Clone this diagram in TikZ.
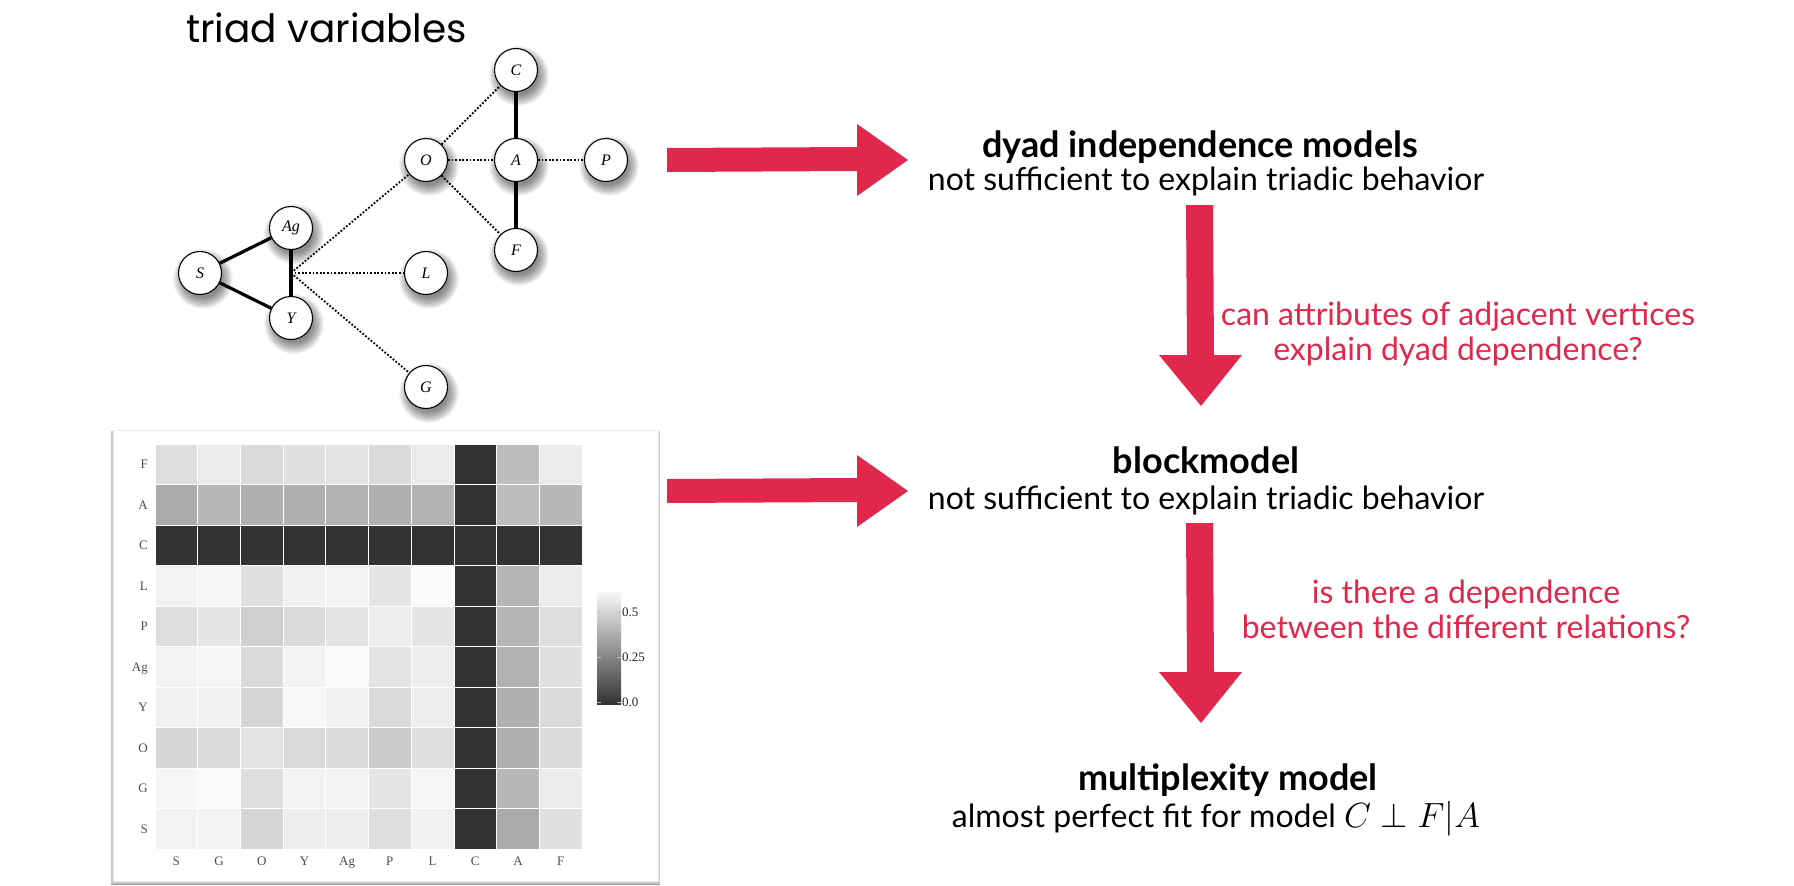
\RequirePackage{fix-cm}
\documentclass[tikz,border=0pt]{standalone}
\usepackage{fontspec}
\setmainfont{Lato}
\newfontfamily\serifnum{Liberation Serif}
\newfontfamily\handfont{Poppins}
\usetikzlibrary{calc}
\definecolor{redarrow}{HTML}{E1274C}
\begin{document}
\begin{tikzpicture}[x=1pt,y=-1pt,
  gnode/.style={circle, draw=black, line width=1.1pt, fill=white, minimum size=43pt, inner sep=0pt,
    font=\serifnum\itshape\fontsize{16}{16}\selectfont},
  strong/.style={line width=3.2pt},
  weak/.style={line width=1.8pt, dash pattern=on 1.8pt off 1.8pt},
  headtxt/.style={anchor=base, inner sep=0pt, font=\bfseries\fontsize{36}{40}\selectfont},
  subtxt/.style={anchor=base, inner sep=0pt, font=\fontsize{32}{36}\selectfont},
  qtxt/.style={subtxt, text=redarrow},
  hmlab/.style={inner sep=0pt, text=black!70, font=\serifnum\fontsize{13}{13}\selectfont},
  blockarrow/.style={fill=redarrow}
]
\useasboundingbox (0,0) rectangle (1794,886);
\fill[white] (0,0) rectangle (1794,886);

% ---------- title
\node[anchor=base west, inner sep=0pt, font=\handfont\fontsize{39}{39}\selectfont] (title) at (186,42) {triad variables};

% ---------- graph
\foreach \n/\x/\y in {C/516/70, O/426/160, A/516/160, P/606/160, F/516/250, Ag/291/228, S/200/273, Y/291/318, L/426/273, G/426/387}
  { \coordinate (p\n) at (\x,\y); }
\foreach \n in {C,O,A,P,F,Ag,S,Y,L,G}
  { \foreach \k in {0,...,9}
     { \fill[black, opacity=0.055] ($(p\n)+(3,6)$) circle ({19pt+\k*1.2pt}); } }
\foreach \n in {C,O,A,P,F,Ag,S,Y,L,G}
  { \node[gnode] (\n) at (p\n) {\n}; }
\coordinate (hub) at (291,273);
\draw[strong] (C) -- (A);
\draw[strong] (A) -- (F);
\draw[strong] (S) -- (Ag);
\draw[strong] (S) -- (Y);
\draw[strong] (Ag) -- (Y);
\draw[weak] (hub) -- (O);
\draw[weak] (hub) -- (L);
\draw[weak] (hub) -- (G);
\draw[weak] (O) -- (C);
\draw[weak] (O) -- (A);
\draw[weak] (O) -- (F);
\draw[weak] (A) -- (P);

% ---------- heatmap panel
\fill[black!40] (111,433) rectangle (660,885);
\fill[black!22] (111,431) rectangle (660,884);
\fill[white] (113,430) rectangle (658,881);
\draw[black!8] (113,430) rectangle (658,881);
\foreach \row [count=\j from 0] in {
  {13,8,14,12,11,14,8,80,26,8},
  {33,28,31,31,30,31,30,80,26,28},
  {80,80,80,80,80,80,80,80,80,80},
  {5,4,12,6,5,10,2,80,29,8},
  {13,10,19,14,11,7,10,80,29,13},
  {5,4,15,5,2,11,7,80,30,12},
  {6,6,16,3,6,15,7,80,31,14},
  {16,14,11,15,14,20,13,80,31,14},
  {4,2,13,5,5,10,4,80,28,8},
  {5,5,16,7,7,13,6,80,33,12}}
  { \foreach \v [count=\i from 0] in \row
     { \filldraw[fill=black!\v, draw=white, line width=0.8pt]
        ({155+42.7*\i},{444+40.5*\j}) rectangle ++(42.7,40.5); } }
\foreach \l [count=\j from 0] in {F,A,C,L,P,Ag,Y,O,G,S}
  { \node[hmlab, anchor=base east] (r\l) at (148,{444+40.5*(\j+0.5)+4.5}) {\l}; }
\foreach \l [count=\i from 0] in {S,G,O,Y,Ag,P,L,C,A,F}
  { \node[hmlab, anchor=base] (c\l) at ({155+42.7*(\i+0.5)},865) {\l}; }
% colour bar
\shade[top color=black!3, bottom color=black!80] (597,592) rectangle (621,704);
\foreach \t/\y in {0.5/612, 0.25/657, 0.0/702}
  { \draw[white!75!black, line width=0.6pt] (597,\y) -- (601,\y);
    \draw[white!75!black, line width=0.6pt] (617,\y) -- (621,\y);
    \node[hmlab, text=black!85, anchor=base west] (k\t) at (622,{\y+4.5}) {\t}; }

% ---------- block arrows
\coordinate (tipA) at (908,160);
\coordinate (tipB) at (908,491);
\coordinate (tipC) at (1201,406);
\coordinate (tipD) at (1201,723);
\begin{scope}[shift={(tipA)}]
  \fill[blockarrow] (-241,-12) -- (-51,-13) -- (-51,-36) -- (0,0) -- (-51,36) -- (-51,11) -- (-241,12) -- cycle;
\end{scope}
\begin{scope}[shift={(tipB)}]
  \fill[blockarrow] (-241,-12) -- (-51,-13) -- (-51,-36) -- (0,0) -- (-51,36) -- (-51,11) -- (-241,12) -- cycle;
\end{scope}
\begin{scope}[shift={(tipC)}]
  \fill[blockarrow] (-15,-201) -- (12,-201) -- (13,-51) -- (41,-51) -- (0,0) -- (-42,-51) -- (-14,-51) -- cycle;
\end{scope}
\begin{scope}[shift={(tipD)}]
  \fill[blockarrow] (-15,-200) -- (12,-200) -- (13,-51) -- (41,-51) -- (0,0) -- (-42,-51) -- (-14,-51) -- cycle;
\end{scope}

% ---------- texts
\node[headtxt] (h1) at (1200,157) {dyad independence models};
\node[subtxt] (s1) at (1206,190) {not sufficient to explain triadic behavior};
\node[qtxt] (q1a) at (1458,325) {can attributes of adjacent vertices};
\node[qtxt] (q1b) at (1458,360) {explain dyad dependence?};
\node[headtxt] (h2) at (1206,473) {blockmodel};
\node[subtxt] (s2) at (1206,509) {not sufficient to explain triadic behavior};
\node[qtxt] (q2a) at (1466,603) {is there a dependence};
\node[qtxt] (q2b) at (1466,638) {between the different relations?};
\node[headtxt] (h3) at (1228,790) {multiplexity model};
\node[subtxt] (s3) at (1216,827) {almost perfect fit for model {\fontsize{35}{40}\selectfont$C\perp F|A$}};
\end{tikzpicture}
\end{document}
